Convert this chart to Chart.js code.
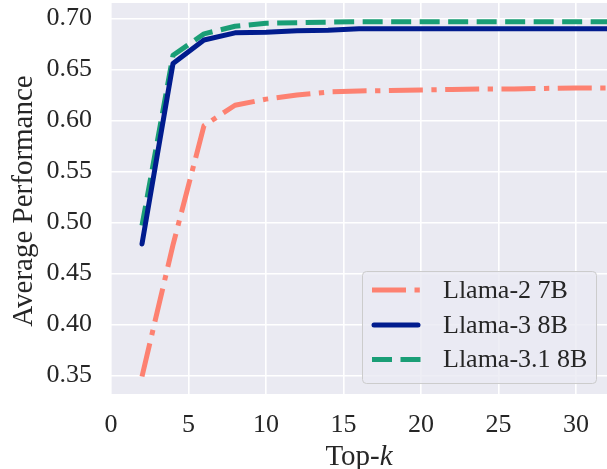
<!DOCTYPE html>
<html>
<head>
<meta charset="utf-8">
<script src="https://cdn.jsdelivr.net/npm/chart.js@4/dist/chart.umd.min.js"></script>
<style>
html,body{margin:0;padding:0;background:#fff;}
#wrap{width:607px;height:469px;position:relative;}
</style>
</head>
<body>
<div id="wrap"><canvas id="c" width="607" height="469"></canvas></div>
<script>
const topK = [2,4,6,8,10,12,14,16,18,20,22,24,26,28,30,32];
const llama2_7b = [0.349,0.478,0.595,0.615,0.621,0.625,0.628,0.629,0.6295,0.630,0.6305,0.631,0.631,0.6315,0.632,0.632];
const llama3_8b = [0.479,0.656,0.679,0.686,0.6865,0.688,0.6885,0.690,0.690,0.690,0.690,0.690,0.690,0.690,0.690,0.690];
const llama31_8b = [0.497,0.664,0.685,0.6925,0.6955,0.696,0.6965,0.697,0.697,0.697,0.697,0.697,0.697,0.697,0.697,0.697];
const seriesNames = ['Llama-2 7B','Llama-3 8B','Llama-3.1 8B'];
const xTicks = [0,5,10,15,20,25,30];
const yTicks = [0.35,0.40,0.45,0.50,0.55,0.60,0.65,0.70];

const SERIF = '"Liberation Serif", "Times New Roman", serif';
const TXT = '#262626';
const colors = ['#fd8171','#011c8e','#1a9e76'];
const dashes = [[34,8.5,5.3,8.5],[],[20,8.5]];
const caps = ['butt','round','butt'];

function pts(ys){ return topK.map((x,i)=>({x:x,y:ys[i]})); }
const allSeries = [llama2_7b, llama3_8b, llama31_8b];

const datasets = allSeries.map((s,i)=>({
  label: seriesNames[i],
  data: pts(s),
  borderColor: colors[i],
  backgroundColor: colors[i],
  borderWidth: 5,
  borderDash: dashes[i],
  borderCapStyle: caps[i],
  borderJoinStyle: 'round',
  pointRadius: 0,
  tension: 0,
  fill: false
}));

const bgPlugin = {
  id: 'bg',
  beforeDraw(chart){
    const {ctx, chartArea:a} = chart;
    ctx.save();
    ctx.fillStyle = '#eaeaf2';
    ctx.fillRect(a.left, a.top, a.right-a.left, a.bottom-a.top);
    ctx.restore();
  }
};

const annoPlugin = {
  id: 'anno',
  afterDraw(chart){
    const {ctx, chartArea:a} = chart;
    ctx.save();
    ctx.fillStyle = TXT;
    ctx.font = '29px ' + SERIF;
    ctx.textAlign = 'center';
    ctx.textBaseline = 'alphabetic';
    ctx.translate(32, 201);
    ctx.rotate(-Math.PI/2);
    ctx.fillText('Average Performance', 0, 0);
    ctx.restore();

    ctx.save();
    ctx.fillStyle = TXT;
    ctx.textBaseline = 'alphabetic';
    ctx.textAlign = 'left';
    const f1 = '29px ' + SERIF, f2 = 'italic 29px ' + SERIF;
    ctx.font = f1; const w1 = ctx.measureText('Top-').width;
    ctx.font = f2; const w2 = ctx.measureText('k').width;
    const cx = (a.left + a.right)/2;
    const x0 = cx - (w1+w2)/2;
    ctx.font = f1; ctx.fillText('Top-', x0, 465);
    ctx.font = f2; ctx.fillText('k', x0 + w1, 465);
    ctx.restore();

    ctx.save();
    const L = 362, T = 271, R = 596, B = 383, rad = 4;
    ctx.beginPath();
    ctx.roundRect(L+0.5, T+0.5, R-L, B-T, rad);
    ctx.fillStyle = 'rgba(234,234,242,0.8)';
    ctx.fill();
    ctx.strokeStyle = '#cccccc';
    ctx.lineWidth = 1;
    ctx.stroke();
    const rowsY = [290, 325, 359.5];
    chart.data.datasets.forEach((ds,i)=>{
      const y = rowsY[i];
      ctx.save();
      ctx.beginPath();
      ctx.strokeStyle = ds.borderColor;
      ctx.lineWidth = ds.borderWidth;
      ctx.setLineDash(ds.borderDash);
      ctx.lineCap = ds.borderCapStyle;
      const xs = ds.borderCapStyle === 'round' ? 374 : 372;
      const xe = ds.borderCapStyle === 'round' ? 418 : 421;
      ctx.moveTo(xs, y); ctx.lineTo(xe, y);
      ctx.stroke();
      ctx.restore();
      ctx.fillStyle = TXT;
      ctx.font = '26px ' + SERIF;
      ctx.textAlign = 'left';
      ctx.textBaseline = 'middle';
      ctx.fillText(ds.label, 443, y + 1);
    });
    ctx.restore();
  }
};

new Chart(document.getElementById('c'), {
  type: 'line',
  data: { datasets },
  options: {
    responsive: false,
    animation: false,
    layout: { padding: { top: 3, right: 0, left: 0, bottom: 0 } },
    plugins: { legend: { display: false }, tooltip: { enabled: false } },
    scales: {
      x: {
        type: 'linear',
        min: 0, max: 32,
        afterFit(s){ s.height = 75; s.paddingLeft = 0; s.paddingRight = 0; },
        afterBuildTicks(s){ s.ticks = xTicks.map(v=>({value:v})); },
        grid: { color: '#ffffff', lineWidth: 1.6, drawTicks: false },
        border: { display: false },
        ticks: { color: TXT, font: { family: SERIF, size: 26 }, padding: 16, maxRotation: 0, autoSkip: false,
                 callback: v => String(v) }
      },
      y: {
        type: 'linear',
        min: 0.3318, max: 0.7153,
        afterFit(s){ s.width = 111; s.paddingTop = 0; s.paddingBottom = 0; },
        afterBuildTicks(s){ s.ticks = yTicks.map(v=>({value:v})); },
        grid: { color: '#ffffff', lineWidth: 1.6, drawTicks: false },
        border: { display: false },
        ticks: { color: TXT, font: { family: SERIF, size: 26 }, padding: 19, autoSkip: false,
                 callback: v => Number(v).toFixed(2) }
      }
    }
  },
  plugins: [bgPlugin, annoPlugin]
});
</script>
</body>
</html>
